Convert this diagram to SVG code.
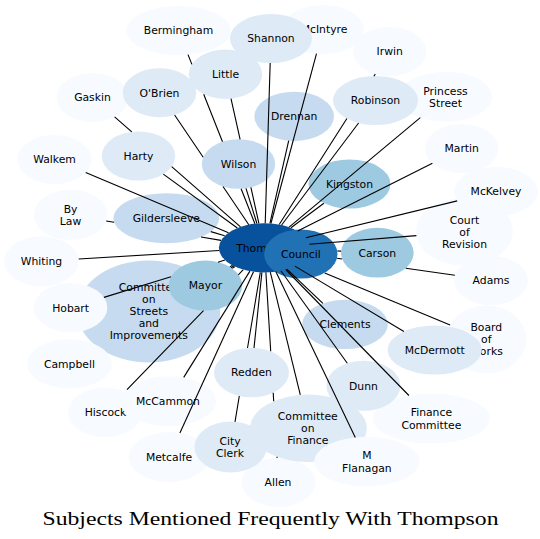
<svg xmlns="http://www.w3.org/2000/svg" width="540" height="539" viewBox="0 0 540 539">
<style>
  .n0 { fill: #f7fbff; }
  .n1 { fill: #deebf7; }
  .n2 { fill: #c6dbef; }
  .n3 { fill: #9ecae1; }
  .n4 { fill: #2171b5; }
  .n5 { fill: #08519c; }
  text { font-family: "DejaVu Sans", "Liberation Sans", sans-serif; font-size: 10.8px; fill: #000; text-anchor: middle; }
  .title { font-family: "Liberation Serif", "DejaVu Serif", serif; font-size: 19px; }
  #edges path { stroke: #000; stroke-width: 1.1; fill: none; }
</style>
<rect width="540" height="539" fill="#ffffff"/>
<g id="nodes">
  <g id="bermingham"><ellipse class="n0" cx="178.5" cy="30.5" rx="52" ry="24.5"/><text x="178.5" y="34.3">Bermingham</text></g>
  <g id="mcintyre"><ellipse class="n0" cx="323" cy="29.5" rx="40.8" ry="24.5"/><text x="324" y="33.3">McIntyre</text></g>
  <g id="shannon"><ellipse class="n1" cx="271" cy="38.5" rx="41" ry="24.5"/><text x="271" y="42.3">Shannon</text></g>
  <g id="irwin"><ellipse class="n0" cx="389.7" cy="51.5" rx="36.7" ry="24.5"/><text x="389.7" y="55.3">Irwin</text></g>
  <g id="little"><ellipse class="n1" cx="225.5" cy="74.3" rx="36.7" ry="24.7"/><text x="225.5" y="78.1">Little</text></g>
  <g id="gaskin"><ellipse class="n0" cx="92.5" cy="97.5" rx="36" ry="24.5"/><text x="92.5" y="101.3">Gaskin</text></g>
  <g id="obrien"><ellipse class="n1" cx="159.5" cy="92.7" rx="36.7" ry="24.5"/><text x="159.5" y="96.5">O'Brien</text></g>
  <g id="princess-street"><ellipse class="n0" cx="445.5" cy="96.7" rx="46.5" ry="25"/><text x="445.5" y="94.5">Princess</text><text x="445.5" y="106.6">Street</text></g>
  <g id="robinson"><ellipse class="n1" cx="375.5" cy="100.5" rx="42.5" ry="24.5"/><text x="375.5" y="104.3">Robinson</text></g>
  <g id="drennan"><ellipse class="n2" cx="294.2" cy="116.3" rx="39.8" ry="24.6"/><text x="294.2" y="120.1">Drennan</text></g>
  <g id="walkem"><ellipse class="n0" cx="54.5" cy="159.5" rx="37" ry="24.5"/><text x="54.5" y="163.3">Walkem</text></g>
  <g id="harty"><ellipse class="n1" cx="138.5" cy="156" rx="36.7" ry="24.6"/><text x="138.5" y="159.8">Harty</text></g>
  <g id="wilson"><ellipse class="n2" cx="238.5" cy="164" rx="36.7" ry="24.8"/><text x="238.5" y="167.8">Wilson</text></g>
  <g id="martin"><ellipse class="n0" cx="461.7" cy="148.5" rx="36.7" ry="24.5"/><text x="461.7" y="152.3">Martin</text></g>
  <g id="kingston"><ellipse class="n3" cx="349.5" cy="184" rx="41" ry="24.5"/><text x="349.5" y="187.8">Kingston</text></g>
  <g id="mckelvey"><ellipse class="n0" cx="496" cy="191.5" rx="42" ry="24.5"/><text x="496" y="195.3">McKelvey</text></g>
  <g id="by-law"><ellipse class="n0" cx="70.6" cy="214.8" rx="36.7" ry="25"/><text x="70.6" y="212.6">By</text><text x="70.6" y="224.7">Law</text></g>
  <g id="gildersleeve"><ellipse class="n2" cx="166.3" cy="218.2" rx="52.8" ry="25"/><text x="166.3" y="222">Gildersleeve</text></g>
  <g id="court-of-revision"><ellipse class="n0" cx="464.5" cy="231.8" rx="48.4" ry="34"/><text x="464.5" y="223.5">Court</text><text x="464.5" y="235.6">of</text><text x="464.5" y="247.7">Revision</text></g>
  <g id="whiting"><ellipse class="n0" cx="41.5" cy="261.3" rx="37.3" ry="25"/><text x="41.5" y="265.1">Whiting</text></g>
  <g id="thompson"><ellipse class="n5" cx="264.4" cy="247.8" rx="45.5" ry="24.6"/><text x="264.4" y="251.6">Thompson</text></g>
  <g id="council"><ellipse class="n4" cx="300.8" cy="254" rx="36.7" ry="24.6"/><text x="300.8" y="257.8">Council</text></g>
  <g id="carson"><ellipse class="n3" cx="377.3" cy="252.7" rx="36.3" ry="24.9"/><text x="377.3" y="256.5">Carson</text></g>
  <g id="adams"><ellipse class="n0" cx="491" cy="280.5" rx="37" ry="24.5"/><text x="491" y="284.3">Adams</text></g>
  <g id="committee-on-streets"><ellipse class="n2" cx="148.8" cy="311.4" rx="71.4" ry="51"/><text x="148.8" y="291">Committee</text><text x="148.8" y="303.1">on</text><text x="148.8" y="315.2">Streets</text><text x="148.8" y="327.3">and</text><text x="148.8" y="339.4">Improvements</text></g>
  <g id="campbell"><ellipse class="n0" cx="69.4" cy="363.8" rx="42.4" ry="24.6"/><text x="69.4" y="367.6">Campbell</text></g>
  <g id="hobart"><ellipse class="n0" cx="70.6" cy="307.7" rx="36.7" ry="24.6"/><text x="70.6" y="311.5">Hobart</text></g>
  <g id="mayor"><ellipse class="n3" cx="205.4" cy="285.6" rx="36.8" ry="25"/><text x="205.4" y="289.4">Mayor</text></g>
  <g id="board-of-works"><ellipse class="n0" cx="486.3" cy="339.5" rx="40" ry="34"/><text x="486.3" y="331.2">Board</text><text x="486.3" y="343.3">of</text><text x="486.3" y="355.4">Works</text></g>
  <g id="mcdermott"><ellipse class="n1" cx="434.7" cy="350" rx="47" ry="24.5"/><text x="434.7" y="353.8">McDermott</text></g>
  <g id="clements"><ellipse class="n2" cx="345" cy="324.4" rx="42.8" ry="24.6"/><text x="345" y="328.2">Clements</text></g>
  <g id="finance-committee"><ellipse class="n0" cx="431.4" cy="418.6" rx="58.4" ry="25"/><text x="431.4" y="416.4">Finance</text><text x="431.4" y="428.5">Committee</text></g>
  <g id="dunn"><ellipse class="n1" cx="363.4" cy="385.8" rx="37" ry="25"/><text x="363.4" y="389.6">Dunn</text></g>
  <g id="hiscock"><ellipse class="n0" cx="105" cy="412.4" rx="37" ry="24.7"/><text x="105.5" y="416.2">Hiscock</text></g>
  <g id="mccammon"><ellipse class="n0" cx="168" cy="401.2" rx="48" ry="24.9"/><text x="168" y="405">McCammon</text></g>
  <g id="redden"><ellipse class="n1" cx="251.5" cy="372.6" rx="37.5" ry="24.7"/><text x="251.5" y="376.4">Redden</text></g>
  <g id="allen"><ellipse class="n0" cx="278.6" cy="482.5" rx="37" ry="24.5"/><text x="278" y="486.3">Allen</text></g>
  <g id="committee-on-finance"><ellipse class="n1" cx="308.4" cy="428.3" rx="58.4" ry="33.7"/><text x="307.8" y="420">Committee</text><text x="307.8" y="432.1">on</text><text x="307.8" y="444.2">Finance</text></g>
  <g id="m-flanagan"><ellipse class="n0" cx="366.9" cy="461.6" rx="52.6" ry="24.8"/><text x="366.9" y="459.4">M</text><text x="366.9" y="471.5">Flanagan</text></g>
  <g id="metcalfe"><ellipse class="n0" cx="169" cy="457" rx="40.3" ry="24.9"/><text x="169" y="460.8">Metcalfe</text></g>
  <g id="city-clerk"><ellipse class="n1" cx="230.7" cy="447" rx="36.2" ry="25.4"/><text x="230" y="444.7">City</text><text x="230" y="456.8">Clerk</text></g>
</g>
<g id="edges">
  <path id="e-bermingham" d="M188,54.6L191.9,64.4M203.7,94.2L222.5,141.7M241.1,188.7L254.9,223.7"/>
  <path id="e-shannon" d="M270.2,63L265.2,223.2"/>
  <path id="e-mcintyre" d="M316.5,53.7L270.9,223.5"/>
  <path id="e-irwin" d="M375.3,74L373.9,76.2M346.9,118.5L279.2,224.5"/>
  <path id="e-little" d="M231,98.7L240.1,139.3M250.9,187.4L258.9,223.4"/>
  <path id="e-gaskin" d="M114.6,116.8L131.8,131.8M171.7,166.7L240.5,226.9"/>
  <path id="e-obrien" d="M174.6,115L203.2,157.3M223,186.5L248.8,224.7"/>
  <path id="e-robinson" d="M358.6,123L281.6,225"/>
  <path id="e-princess-street" d="M420.3,117.7L289.1,227.2"/>
  <path id="e-drennan" d="M288.7,140.7L269.9,223.4"/>
  <path id="e-harty" d="M163.3,174.1L237.3,228"/>
  <path id="e-wilson" d="M246,188.3L256.9,223.5"/>
  <path id="e-walkem" d="M85.7,172.6L228.5,232.7"/>
  <path id="e-martin" d="M432.4,163.2L297.7,231"/>
  <path id="e-kingston" d="M323.9,203.2L291,227.8"/>
  <path id="e-mckelvey" d="M457.2,200.9L305.9,237.7"/>
  <path id="e-by-law" d="M106.2,221L114.1,222.3M201,237L221,240.4"/>
  <path id="e-gildersleeve" d="M210.8,231.6L224.7,235.8"/>
  <path id="e-court-of-revision" d="M416.4,235.6L309.4,244.2"/>
  <path id="e-whiting" d="M78.7,259L219.2,250.5"/>
  <path id="e-carson" d="M337.2,251L341.1,251.1"/>
  <path id="e-adams" d="M337.1,258.3L342.1,259M405.8,268.2L454.9,275.3"/>
  <path id="e-mayor" d="M232.2,268.4L235.1,266.6"/>
  <path id="e-hobart" d="M103.9,297.4L171,276.7M218,262.2L224.9,260"/>
  <path id="e-committee-on-streets" d="M229.8,266.9L232.5,265.3"/>
  <path id="e-campbell" d="M231,267.7L233.8,266"/>
  <path id="e-board-of-works" d="M324.7,272.9L450.1,325.1"/>
  <path id="e-mcdermott" d="M403.9,331.5L294.9,266.1"/>
  <path id="e-clements" d="M322.9,303.3L286.9,269.2"/>
  <path id="e-finance-committee" d="M408.9,395.5L285.7,269.5"/>
  <path id="e-dunn" d="M347.3,363.3L280.9,270.7"/>
  <path id="e-hiscock" d="M127,389.7L203.5,310.7M238.3,274.8L243.3,269.6"/>
  <path id="e-mccammon" d="M183.7,377.4L249.9,271.1"/>
  <path id="e-redden" d="M254,348L261.9,272.4"/>
  <path id="e-allen" d="M277.1,458L277,456.7M273.7,401.3L273.2,392.8M270.7,351.3L265.9,272.4"/>
  <path id="e-committee-on-finance" d="M300.3,394.9L270.3,272.2"/>
  <path id="e-m-flanagan" d="M355.3,437.4L275.8,271.6"/>
  <path id="e-metcalfe" d="M179.9,433L253.5,271.7"/>
  <path id="e-city-clerk" d="M235,421.8L239.3,396M247.5,348L260.3,272.3"/>
</g>
<text class="title" x="270.5" y="525" textLength="456" lengthAdjust="spacingAndGlyphs">Subjects Mentioned Frequently With Thompson</text>
</svg>
